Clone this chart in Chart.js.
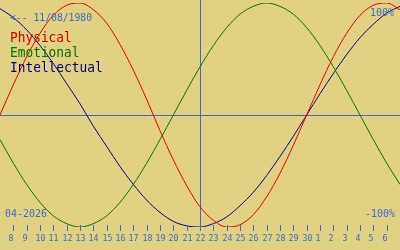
<!DOCTYPE html>
<html>
<head>
<meta charset="utf-8">
<script src="https://cdn.jsdelivr.net/npm/chart.js@4"></script>
<style>
  html, body { margin: 0; padding: 0; background: #e0d282; }
  #wrap { width: 400px; height: 250px; position: relative; }
</style>
</head>
<body>
<div id="wrap"><canvas id="bio"></canvas></div>
<script>
// day index -1 .. 29 (index 0 = 8 April, index 14 = today 22)
const dayIdx = [-1, 0, 1, 2, 3, 4, 5, 6, 7, 8, 9, 10, 11, 12, 13, 14, 15, 16, 17, 18, 19, 20, 21, 22, 23, 24, 25, 26, 27, 28, 29];
const dayLabels = ["8", "9", "10", "11", "12", "13", "14", "15", "16", "17", "18", "19", "20", "21", "22", "23", "24", "25", "26", "27", "28", "29", "30", "1", "2", "3", "4", "5", "6"];
const physical = [0, 27, 52, 73, 89, 98, 100, 94, 82, 63, 40, 14, -14, -40, -63, -82, -94, -100, -98, -89, -73, -52, -27, 0, 27, 52, 73, 89, 98, 100, 94];
const emotional = [-22, -43, -62, -78, -90, -97, -100, -97, -90, -78, -62, -43, -22, 0, 22, 43, 62, 78, 90, 97, 100, 97, 90, 78, 62, 43, 22, 0, -22, -43, -62];
const intellectual = [95, 87, 76, 62, 46, 28, 10, -10, -28, -46, -62, -76, -87, -95, -99, -100, -97, -91, -81, -69, -54, -37, -19, 0, 19, 37, 54, 69, 81, 91, 97];
const todayIdx = 14;
const birthText = "<-- 11/08/1980";
const monthText = "04-2026";

const BLUE = '#3b6cc0';
const mono = '"DejaVu Sans Mono", monospace';

const toPts = arr => arr.map((v, i) => ({ x: dayIdx[i], y: v }));

// texto estrechado horizontalmente
function drawText(ctx, txt, x, y, size, sx, align) {
  ctx.save();
  ctx.font = size + 'px ' + mono;
  ctx.textAlign = align || 'left';
  ctx.translate(x, y);
  ctx.scale(sx, 1);
  ctx.fillText(txt, 0, 0);
  ctx.restore();
}

// ejes, marcas y textos
const bioDecor = {
  id: 'bioDecor',
  beforeDatasetsDraw(chart) {
    const ctx = chart.ctx;
    const xs = chart.scales.x, ys = chart.scales.y;
    const y0 = Math.round(ys.getPixelForValue(0)) + 0.5;
    const xt = Math.round(xs.getPixelForValue(todayIdx)) + 0.5;
    ctx.save();
    ctx.strokeStyle = BLUE;
    ctx.lineWidth = 1;
    ctx.beginPath();
    ctx.moveTo(0, y0); ctx.lineTo(chart.width, y0);
    ctx.moveTo(xt, 0); ctx.lineTo(xt, 231);
    ctx.stroke();
    ctx.restore();
  },
  afterDraw(chart) {
    const ctx = chart.ctx;
    const xs = chart.scales.x;
    ctx.save();
    ctx.strokeStyle = BLUE;
    ctx.fillStyle = BLUE;
    ctx.lineWidth = 1;
    ctx.textBaseline = 'alphabetic';
    dayLabels.forEach((lab, i) => {
      const px = Math.round(xs.getPixelForValue(i)) + 0.5;
      ctx.beginPath();
      ctx.moveTo(px, 225); ctx.lineTo(px, 231);
      ctx.stroke();
      drawText(ctx, lab, px - 5, 241, 9, 0.92, 'left');
    });
    drawText(ctx, birthText, 10, 21, 11, 0.885, 'left');
    drawText(ctx, monthText, 5, 217, 10.5, 0.95, 'left');
    drawText(ctx, '100%', 394, 16, 10.5, 0.95, 'right');
    drawText(ctx, '-100%', 395, 217, 10.5, 0.95, 'right');
    // leyenda
    ctx.fillStyle = '#d40000'; drawText(ctx, 'Physical', 10, 42, 13.5, 0.95, 'left');
    ctx.fillStyle = '#0a7000'; drawText(ctx, 'Emotional', 10, 57, 13.5, 0.95, 'left');
    ctx.fillStyle = '#000078'; drawText(ctx, 'Intellectual', 10, 72, 13.5, 0.95, 'left');
    ctx.restore();
  }
};

new Chart(document.getElementById('bio').getContext('2d'), {
  type: 'line',
  data: {
    datasets: [
      { label: 'Physical', data: toPts(physical), borderColor: '#e00000' },
      { label: 'Emotional', data: toPts(emotional), borderColor: '#0a7000' },
      { label: 'Intellectual', data: toPts(intellectual), borderColor: '#000080' }
    ]
  },
  options: {
    responsive: true,
    maintainAspectRatio: false,
    animation: false,
    layout: { padding: { top: 3, bottom: 23, left: 0, right: 0 } },
    elements: {
      line: { borderWidth: 1, cubicInterpolationMode: 'monotone' },
      point: { radius: 0 }
    },
    scales: {
      x: { type: 'linear', min: -1, max: 29, display: false },
      y: { min: -100, max: 100, display: false }
    },
    plugins: {
      legend: { display: false },
      tooltip: { enabled: false }
    }
  },
  plugins: [bioDecor]
});
</script>
</body>
</html>
